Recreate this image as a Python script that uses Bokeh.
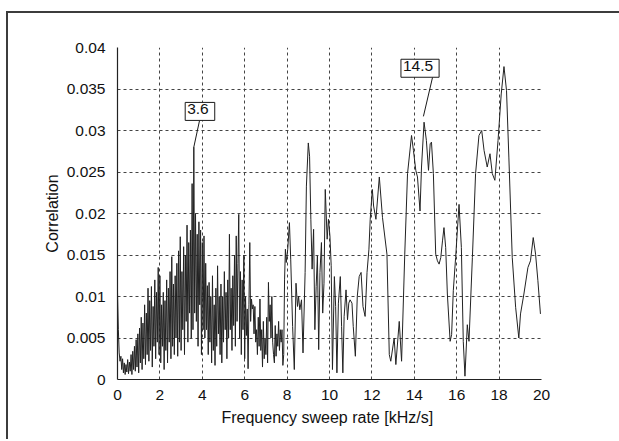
from bokeh.plotting import figure
from bokeh.models import FixedTicker, Label, Range1d, InlineStyleSheet
from bokeh.embed import file_html
from bokeh.resources import INLINE

# ---------------- data ----------------
# dense part 0..8 kHz/s, sampled every 0.04 kHz/s
dense_step = 0.04
dense_y = [
    # 0.00 - 0.76
    0.0105, 0.0060, 0.0032, 0.0022, 0.0028, 0.0012, 0.0025, 0.0008, 0.0020, 0.0006,
    0.0018, 0.0009, 0.0024, 0.0007, 0.0021, 0.0010, 0.0030, 0.0006, 0.0034, 0.0012,
    # 0.80 - 1.96
    0.0040, 0.0010, 0.0048, 0.0015, 0.0055, 0.0008, 0.0062, 0.0020, 0.0075, 0.0012,
    0.0068, 0.0025, 0.0090, 0.0018, 0.0080, 0.0030, 0.0110, 0.0022, 0.0095, 0.0035,
    0.0112, 0.0015, 0.0088, 0.0040, 0.0120, 0.0025, 0.0105, 0.0045, 0.0135, 0.0030,
    # 2.00 - 3.96
    0.0125, 0.0020, 0.0090, 0.0040, 0.0105, 0.0012, 0.0095, 0.0035, 0.0120, 0.0020,
    0.0110, 0.0045, 0.0130, 0.0025, 0.0148, 0.0040, 0.0115, 0.0030, 0.0125, 0.0050,
    0.0140, 0.0028, 0.0155, 0.0045, 0.0172, 0.0035, 0.0130, 0.0060, 0.0160, 0.0030,
    0.0150, 0.0070, 0.0186, 0.0045, 0.0165, 0.0080, 0.0180, 0.0050, 0.0236, 0.0060,
    0.0280, 0.0080, 0.0200, 0.0070, 0.0175, 0.0040, 0.0190, 0.0090, 0.0180, 0.0030,
    # 4.00 - 5.96
    0.0165, 0.0060, 0.0173, 0.0050, 0.0140, 0.0060, 0.0113, 0.0030, 0.0117, 0.0045,
    0.0100, 0.0020, 0.0125, 0.0035, 0.0090, 0.0017, 0.0110, 0.0040, 0.0137, 0.0055,
    0.0100, 0.0030, 0.0115, 0.0020, 0.0100, 0.0045, 0.0130, 0.0060, 0.0105, 0.0025,
    0.0120, 0.0050, 0.0175, 0.0060, 0.0110, 0.0035, 0.0125, 0.0065, 0.0150, 0.0040,
    0.0173, 0.0070, 0.0140, 0.0199, 0.0050, 0.0130, 0.0030, 0.0120, 0.0060, 0.0150,
    # 6.00 - 7.96
    0.0025, 0.0100, 0.0053, 0.0085, 0.0013, 0.0090, 0.0165, 0.0070, 0.0097, 0.0085,
    0.0090, 0.0055, 0.0088, 0.0045, 0.0060, 0.0030, 0.0075, 0.0040, 0.0097, 0.0035,
    0.0060, 0.0015, 0.0070, 0.0025, 0.0050, 0.0030, 0.0075, 0.0020, 0.0117, 0.0070,
    0.0090, 0.0050, 0.0100, 0.0045, 0.0030, 0.0020, 0.0065, 0.0028, 0.0055, 0.0040,
    0.0070, 0.0035, 0.0060, 0.0045, 0.0060, 0.0017, 0.0030, 0.0120, 0.0157, 0.0141,
]
dense_x = [round(i * dense_step, 2) for i in range(len(dense_y))]

# smoother part 8..20 kHz/s
sparse_x = [
    8.03, 8.11, 8.17, 8.26, 8.34, 8.42, 8.49, 8.54, 8.60, 8.68, 8.75, 8.85, 8.91, 9.00,
    9.06, 9.12, 9.18, 9.25, 9.31, 9.37, 9.43, 9.49, 9.55, 9.62, 9.68, 9.74, 9.80, 9.89,
    9.95, 10.02, 10.08, 10.14, 10.23, 10.29, 10.35, 10.42, 10.51, 10.57, 10.63, 10.69,
    10.78, 10.85, 10.91, 10.97, 11.06, 11.12, 11.22, 11.31, 11.40, 11.49, 11.58, 11.68,
    11.77, 11.86, 11.92, 12.02, 12.08, 12.19, 12.35, 12.50, 12.71, 12.82, 12.89, 13.05,
    13.13, 13.29, 13.40, 13.55, 13.68, 13.87, 13.96, 14.07, 14.15, 14.27, 14.34, 14.46,
    14.57, 14.67, 14.75, 14.81, 14.90, 15.01, 15.09, 15.17, 15.25, 15.33, 15.40, 15.48,
    15.56, 15.69, 15.76, 15.84, 15.95, 16.11, 16.22, 16.31, 16.39, 16.50, 16.58, 16.74,
    16.89, 17.05, 17.18, 17.29, 17.44, 17.57, 17.68, 17.80, 17.95, 18.10, 18.23, 18.35,
    18.46, 18.62, 18.78, 18.93, 19.01, 19.17, 19.36, 19.48, 19.61, 19.72, 19.83, 19.95,
]
sparse_y = [
    0.0157, 0.0189, 0.0145, 0.0064, 0.0012, 0.0116, 0.0088, 0.0100, 0.0084, 0.0096, 0.0032, 0.0129, 0.0233, 0.0285,
    0.0269, 0.0193, 0.0133, 0.0181, 0.0060, 0.0112, 0.0149, 0.0036, 0.0129, 0.0165, 0.0080, 0.0116, 0.0229, 0.0169,
    0.0193, 0.0173, 0.0137, 0.0012, 0.0124, 0.0088, 0.0008, 0.0092, 0.0124, 0.0064, 0.0008, 0.0076,
    0.0108, 0.0072, 0.0092, 0.0096, 0.0092, 0.0064, 0.0028, 0.0100, 0.0124, 0.0129, 0.0088, 0.0076,
    0.0129, 0.0157, 0.0193, 0.0229, 0.0209, 0.0193, 0.0244, 0.0195, 0.0151, 0.0030, 0.0022, 0.0050,
    0.0018, 0.0070, 0.0022, 0.0151, 0.0248, 0.0294, 0.0276, 0.0252, 0.0244, 0.0203, 0.0256, 0.0310,
    0.0288, 0.0252, 0.0284, 0.0286, 0.0248, 0.0151, 0.0143, 0.0139, 0.0147, 0.0167, 0.0183, 0.0159,
    0.0103, 0.0046, 0.0054, 0.0107, 0.0147, 0.0211, 0.0159, 0.0046, 0.0004, 0.0066, 0.0046, 0.0147,
    0.0248, 0.0294, 0.0300, 0.0276, 0.0256, 0.0272, 0.0248, 0.0240, 0.0288, 0.0344, 0.0377, 0.0348,
    0.0268, 0.0147, 0.0087, 0.0050, 0.0079, 0.0103, 0.0135, 0.0143, 0.0171, 0.0151, 0.0119, 0.0079,
]

freq = dense_x + sparse_x
corr = dense_y + sparse_y

x_ticks = [0, 2, 4, 6, 8, 10, 12, 14, 16, 18, 20]
y_ticks = [0, 0.005, 0.01, 0.015, 0.02, 0.025, 0.03, 0.035, 0.04]
y_tick_labels = ["0", "0.005", "0.01", "0.015", "0.02", "0.025", "0.03", "0.035", "0.04"]

callout_text = ["3.6", "14.5"]
callout_peak_x = [3.6, 14.43]
callout_peak_y = [0.028, 0.0317]
callout_box_x = [3.89, 14.27]
callout_box_y = [0.0323, 0.0375]
callout_tail_x = [3.87, 14.86]
callout_tail_y = [0.0312, 0.0364]

FONT = "Liberation Sans"
# outer frame of the scanned page: only its top and left edges are in view
FRAME_CSS = (":host { background: "
             "linear-gradient(#3c3c3c,#3c3c3c) 6px 11px / 2px calc(100% - 11px) no-repeat, "
             "linear-gradient(#3c3c3c,#3c3c3c) 6px 11px / calc(100% - 6px) 2px no-repeat, "
             "white; }")

p = figure(
    frame_width=424, frame_height=332,
    min_border_left=117, min_border_right=78, min_border_top=47, min_border_bottom=60,
    x_range=Range1d(0, 20), y_range=Range1d(0, 0.04),
    output_backend="svg", toolbar_location=None,
    stylesheets=[InlineStyleSheet(css=FRAME_CSS)],
)
p.outline_line_color = None
p.background_fill_color = "white"
p.border_fill_color = None

p.line(freq, corr, line_color="#222222", line_width=1)

# grid
for g in (p.xgrid[0], p.ygrid[0]):
    g.grid_line_color = "#444444"
    g.grid_line_dash = "3 3"
    g.grid_line_width = 1
p.xaxis.ticker = FixedTicker(ticks=x_ticks)
p.yaxis.ticker = FixedTicker(ticks=y_ticks)
p.yaxis.major_label_overrides = dict(zip(y_ticks, y_tick_labels))

for ax in (p.xaxis[0], p.yaxis[0]):
    ax.axis_line_color = "#222222"
    ax.axis_line_width = 1.2
    ax.major_tick_line_color = None
    ax.minor_tick_line_color = None
    ax.major_label_text_font = FONT
    ax.major_label_text_font_size = "15.5px"
    ax.major_label_text_color = "#111111"
    ax.axis_label_text_font = FONT
    ax.axis_label_text_font_size = "16px"
    ax.axis_label_text_font_style = "normal"
    ax.axis_label_text_color = "#111111"

p.xaxis.major_label_standoff = 4
p.yaxis.major_label_standoff = 6
p.xaxis.axis_label = "Frequency sweep rate  [kHz/s]"
p.yaxis.axis_label = "Correlation"
p.xaxis.axis_label_standoff = 6
p.yaxis.axis_label_standoff = 3

# callouts
p.segment(callout_tail_x, callout_tail_y, callout_peak_x, callout_peak_y,
          line_color="#1a1a1a", line_width=1)
for t, bx, by in zip(callout_text, callout_box_x, callout_box_y):
    p.add_layout(Label(x=bx, y=by, text=t, text_align="center", text_baseline="middle",
                       text_font=FONT, text_font_size="15.5px", text_color="#111111",
                       background_fill_color="white", border_line_color="#1a1a1a",
                       border_line_width=1, padding=(2, 6, 2, 6)))

open("out.html", "w").write(file_html(p, INLINE))
